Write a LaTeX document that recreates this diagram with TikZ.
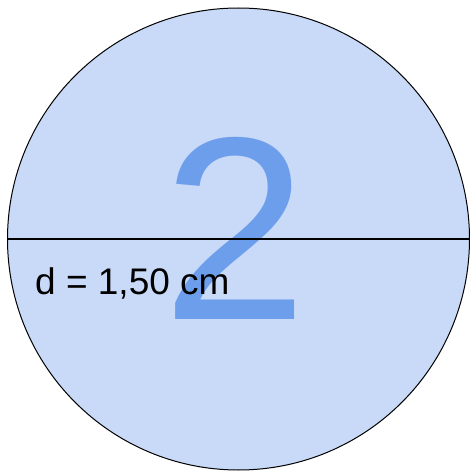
\documentclass[tikz,border=0pt]{standalone}
\usepackage{fontspec}
\setmainfont{Liberation Sans}
\usepackage{xcolor}
\usepackage{tikz}
\usetikzlibrary{positioning}
\definecolor{diskblue}{HTML}{C9DAF8}
\definecolor{digitblue}{HTML}{6D9EEB}
\tikzset{
  disk/.style={fill=diskblue,draw=black,line width=1pt},
  diameter/.style={black,line width=1.2pt},
  bigdigit/.style={digitblue,inner sep=0pt,font=\fontsize{261}{261}\selectfont},
  measure/.style={black,inner sep=0pt,font=\fontsize{37}{37}\selectfont}
}

\begin{document}
\begin{tikzpicture}[x=1pt,y=1pt]
\useasboundingbox (0,0) rectangle (470,475);
\draw[disk] (238.5,236) circle (231);
\node[bigdigit,anchor=base] (two) at (235.5,155) {2};
\coordinate (west) at (7.5,236);
\coordinate (east) at (469.5,236);
\draw[diameter] (west) -- (east);
\node[measure,anchor=base west] (dlabel) at (35,180) {d = 1,50 cm};
\end{tikzpicture}
\end{document}
